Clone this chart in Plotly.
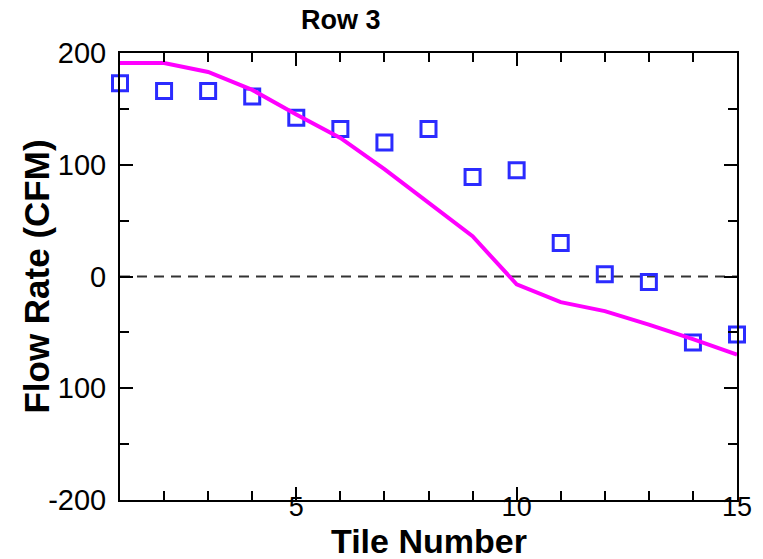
import plotly.graph_objects as go

# Data
tiles = list(range(1, 16))
measured = [173, 166, 166, 161, 142, 132, 120, 132, 89, 95, 30, 2, -5, -59, -52]
predicted = [191, 191, 183, 167, 145, 124, 96, 66, 36, -7, -23, -31, -43, -56, -70]
zero_x = [1, 15]
zero_y = [0, 0]
ytick_vals = [200, 100, 0, -100, -200]
ytick_text = ["200", "100", "0", "100", "-200"]
xtick_vals = [5, 10, 15]
xtick_text = ["5", "10", "15"]

FONT = "Liberation Sans, Arial, sans-serif"

fig = go.Figure()
fig.add_trace(go.Scatter(x=zero_x, y=zero_y, mode="lines",
                         line=dict(color="#333333", width=2, dash="10px,7px"),
                         showlegend=False, hoverinfo="skip"))
fig.add_trace(go.Scatter(x=tiles, y=measured, mode="markers", cliponaxis=False,
                         marker=dict(symbol="square-open", size=15, color="#2b2bff",
                                     line=dict(width=3, color="#2b2bff")),
                         showlegend=False))
fig.add_trace(go.Scatter(x=tiles, y=predicted, mode="lines",
                         line=dict(color="#ff00ff", width=4),
                         showlegend=False))

axis_common = dict(showline=True, linecolor="black", linewidth=2, mirror="allticks",
                   ticks="inside", tickcolor="black", tickwidth=2, showgrid=False,
                   zeroline=False)

fig.update_xaxes(range=[1, 15], tickvals=xtick_vals, ticktext=xtick_text, ticklen=13,
                 minor=dict(dtick=1, tick0=0, ticklen=9, ticks="inside", tickcolor="black",
                            tickwidth=2, showgrid=False),
                 ticklabelstandoff=-18,
                 tickfont=dict(family=FONT, size=27, color="black"),
                 **axis_common)
fig.update_yaxes(range=[-200, 200], tickvals=ytick_vals, ticktext=ytick_text, ticklen=13,
                 minor=dict(dtick=50, tick0=0, ticklen=9, ticks="inside", tickcolor="black",
                            tickwidth=2, showgrid=False),
                 ticklabelstandoff=6,
                 tickfont=dict(family=FONT, size=29, color="black"),
                 **axis_common)

fig.update_layout(
    width=763, height=559,
    margin=dict(l=120, r=26, t=53, b=59),
    plot_bgcolor="white", paper_bgcolor="white",
    font=dict(family=FONT, color="black"),
    annotations=[
        dict(text="<b>Row 3</b>", x=0.358, y=1.074, xref="paper", yref="paper",
             xanchor="center", yanchor="middle", showarrow=False,
             font=dict(family=FONT, size=27, color="black")),
        dict(text="<b>Tile Number</b>", x=0.5, y=-0.091, xref="paper", yref="paper",
             xanchor="center", yanchor="middle", showarrow=False,
             font=dict(family=FONT, size=34, color="black")),
        dict(text="<b>Flow Rate (CFM)</b>", x=-0.136, y=0.5, xref="paper", yref="paper",
             xanchor="center", yanchor="middle", showarrow=False, textangle=-90,
             font=dict(family=FONT, size=35, color="black")),
    ],
)

fig.write_html("out.html")
